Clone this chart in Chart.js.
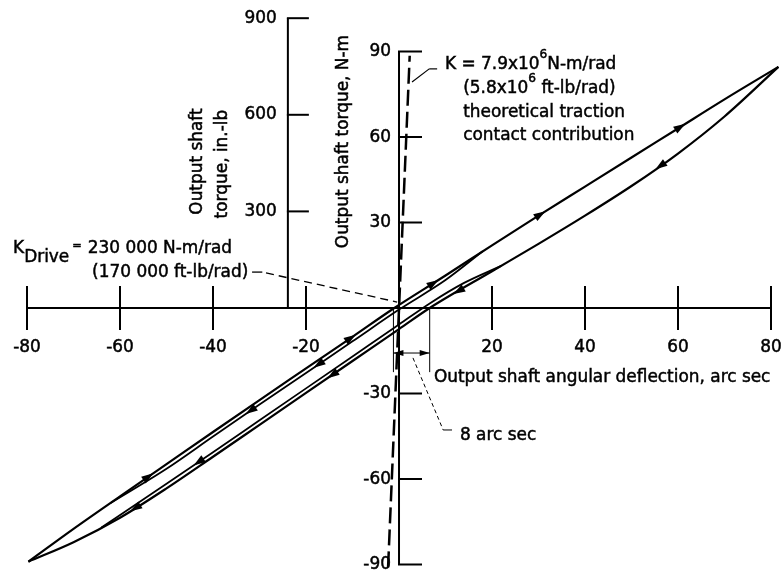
<!DOCTYPE html>
<html>
<head>
<meta charset="utf-8">
<script src="https://cdn.jsdelivr.net/npm/chart.js@4.4.1/dist/chart.umd.min.js"></script>
<style>
  html, body { margin: 0; padding: 0; background: #fff; }
  #wrap { width: 781px; height: 571px; }
</style>
</head>
<body>
<div id="wrap"><canvas id="chart"></canvas></div>
<script>
"use strict";

// deflection in arc sec, torque in N-m
const upperX = [-79.7, -70, -60, -50, -40, -30, -20, -10, -1, 10, 20, 30, 40, 50, 60, 70, 81.6];
const upperY = [-89, -77.5, -66.1, -54.8, -43.5, -32.3, -21.2, -10.1, 0, 11.4, 22.0, 32.4, 42.6, 52.8, 63.0, 73.2, 84.6];

const upper2X = [-62, -50, -40, -30, -20, -10, 0, 10, 18];
const upper2Y = [-68.4, -56.4, -45.1, -33.9, -22.8, -11.7, -0.56, 9.8, 19.9];

const lowerX = [-79.7, -70, -60, -50, -40, -30, -20, -10, 0, 6.6, 20, 30, 40, 50, 60, 70, 81.6];
const lowerY = [-89, -82.2, -73.6, -63.3, -52.2, -41.0, -29.8, -18.6, -7.4, 0, 12.9, 22.5, 32.4, 42.8, 54.2, 67.2, 84.6];

const lower2X = [-64, -50, -40, -30, -20, -10, 0, 6.6, 14, 22];
const lower2Y = [-77.0, -61.7, -50.6, -39.4, -28.2, -17.0, -5.8, 1.6, 8.8, 14.8];

// theoretical traction contact stiffness line
const kLineX = [-2.35, 2.3];
const kLineY = [-91, 88.5];

// arrows on the loop: which curve, where, which way
const arrowCurve = ["upper", "upper", "upper", "upper", "upper", "upper2", "upper2", "lower", "lower", "lower", "lower2", "lower"];
const arrowX = [60.5, 30.4, 7.4, -10.4, -53.9, -17.3, -31.9, 56.2, 12.8, -14.3, -43.1, -56.7];
const arrowDir = [1, 1, 1, 1, 1, -1, -1, -1, -1, -1, -1, -1];

// tick labels
const xTicks = [-80, -60, -40, -20, 20, 40, 60, 80];
const nmTicks = [90, 60, 30, -30, -60, -90];
const inlbTicks = [900, 600, 300];

const NM_TO_INLB = 8.8507;
const xMin = -85.81, xMax = 82.15;
const yMin = -92.28, yMax = 108.07;

const curves = {
  upper: [upperX, upperY],
  upper2: [upper2X, upper2Y],
  lower: [lowerX, lowerY],
  lower2: [lower2X, lower2Y]
};

const SQUEEZE = 0.94;
const FONT = '"DejaVu Sans", "Liberation Sans", sans-serif';

function pts(xs, ys) {
  return xs.map((x, i) => ({ x: x, y: ys[i] }));
}

function seg(ctx, x1, y1, x2, y2) {
  ctx.beginPath();
  ctx.moveTo(x1, y1);
  ctx.lineTo(x2, y2);
  ctx.stroke();
}

function txt(ctx, s, x, y, align, size, rot) {
  ctx.save();
  ctx.translate(x, y);
  if (rot) ctx.rotate(rot);
  ctx.scale(SQUEEZE, 1);
  ctx.font = size + "px " + FONT;
  ctx.textAlign = align;
  ctx.textBaseline = "middle";
  ctx.fillStyle = "#000";
  ctx.strokeStyle = "#000";
  ctx.lineWidth = 0.5;
  ctx.setLineDash([]);
  ctx.fillText(s, 0, 0);
  ctx.strokeText(s, 0, 0);
  ctx.restore();
}

function run(ctx, parts, x, y) {
  let cx = x;
  parts.forEach(p => {
    ctx.font = p.size + "px " + FONT;
    const w = ctx.measureText(p.t).width * SQUEEZE;
    txt(ctx, p.t, cx, y + (p.dy || 0), "left", p.size);
    cx += w + (p.gap || 0);
  });
}

function interp(xs, ys, x) {
  for (let i = 0; i < xs.length - 1; i++) {
    if (x >= xs[i] && x <= xs[i + 1]) {
      const t = (x - xs[i]) / (xs[i + 1] - xs[i]);
      return ys[i] + t * (ys[i + 1] - ys[i]);
    }
  }
  return ys[ys.length - 1];
}

function arrowHead(ctx, x, y, ang, len, half) {
  ctx.save();
  ctx.translate(x, y);
  ctx.rotate(ang);
  ctx.beginPath();
  ctx.moveTo(len / 2, 0);
  ctx.lineTo(-len / 2, -half);
  ctx.lineTo(-len / 2, half);
  ctx.closePath();
  ctx.fill();
  ctx.restore();
}

const sketchAxes = {
  id: "sketchAxes",
  beforeDatasetsDraw(chart) {
    const ctx = chart.ctx;
    const sx = chart.scales.x, sy = chart.scales.y, si = chart.scales.yIn;
    const X = v => sx.getPixelForValue(v);
    const Y = v => sy.getPixelForValue(v);
    ctx.save();
    ctx.strokeStyle = "#000";
    ctx.lineWidth = 2;

    // deflection axis through zero torque
    const y0 = Y(0);
    seg(ctx, X(xTicks[0]), y0, X(xTicks[xTicks.length - 1]), y0);
    xTicks.forEach(t => {
      seg(ctx, X(t), y0 - 22, X(t), y0 + 22);
      txt(ctx, String(t), X(t), y0 + 39, "center", 18);
    });

    // N-m axis
    const x0 = X(0);
    seg(ctx, x0, Y(nmTicks[0]), x0, Y(nmTicks[nmTicks.length - 1]));
    nmTicks.forEach(t => {
      seg(ctx, x0 - 1, Y(t), x0 + 23, Y(t));
      txt(ctx, String(t), x0 - 8, Y(t), "right", 18);
    });

    // in.-lb axis
    const xi = X(-23.9);
    seg(ctx, xi, si.getPixelForValue(0), xi, si.getPixelForValue(inlbTicks[0]));
    inlbTicks.forEach(t => {
      const py = si.getPixelForValue(t);
      seg(ctx, xi - 1, py, xi + 21, py);
      txt(ctx, String(t), xi - 11, py, "right", 18);
    });

    // axis titles
    txt(ctx, "Output shaft torque, N-m", X(-12.0), Y(58.4), "center", 18, -Math.PI / 2);
    txt(ctx, "Output shaft", X(-43.4), Y(51.4), "center", 18, -Math.PI / 2);
    txt(ctx, "torque, in.-lb", X(-38.1), Y(50.5), "center", 18, -Math.PI / 2);
    txt(ctx, "Output shaft angular deflection, arc sec", X(7.5), Y(-24.2), "left", 18);
    ctx.restore();
  },
  afterDatasetsDraw(chart) {
    const ctx = chart.ctx;
    const sx = chart.scales.x, sy = chart.scales.y;
    const X = v => sx.getPixelForValue(v);
    const Y = v => sy.getPixelForValue(v);
    ctx.save();
    ctx.fillStyle = "#000";
    ctx.strokeStyle = "#000";

    // arrowheads along the loop
    arrowX.forEach((ax, i) => {
      const c = curves[arrowCurve[i]];
      const ay = interp(c[0], c[1], ax);
      const p1x = X(ax - 0.5), p1y = Y(interp(c[0], c[1], ax - 0.5));
      const p2x = X(ax + 0.5), p2y = Y(interp(c[0], c[1], ax + 0.5));
      let ang = Math.atan2(p2y - p1y, p2x - p1x);
      if (arrowDir[i] < 0) ang += Math.PI;
      arrowHead(ctx, X(ax), Y(ay), ang, 12, 4);
    });

    // 8 arc sec dimension
    ctx.lineWidth = 1;
    seg(ctx, X(-1.2), Y(0), X(-1.2), Y(-22.5));
    seg(ctx, X(6.6), Y(0), X(6.6), Y(-22.5));
    seg(ctx, X(-1.2), Y(-15.8), X(6.6), Y(-15.8));
    arrowHead(ctx, X(-1.2) + 5, Y(-15.8), Math.PI, 10, 3);
    arrowHead(ctx, X(6.6) - 5, Y(-15.8), 0, 10, 3);
    ctx.setLineDash([4, 3]);
    seg(ctx, X(3.0), Y(-17.5), X(9.5), Y(-42.8));
    ctx.setLineDash([]);
    seg(ctx, X(9.5), Y(-42.8), X(11.4), Y(-42.8));
    txt(ctx, "8 arc sec", X(13.1), Y(-44.6), "left", 18);

    // K drive label and leader
    ctx.lineWidth = 1.3;
    seg(ctx, X(-31.6), Y(12.6), X(-29.4), Y(12.6));
    ctx.setLineDash([8, 5]);
    seg(ctx, X(-28.6), Y(12.3), X(-0.4), Y(2.1));
    ctx.setLineDash([]);
    run(ctx, [
      { t: "K", size: 18 },
      { t: "Drive", size: 18, dy: 9, gap: 3 },
      { t: "=", size: 12, dy: -2, gap: 6 },
      { t: "230 000 N-m/rad", size: 18 }
    ], X(-83.0), Y(21.1));
    txt(ctx, "(170 000 ft-lb/rad)", X(-66.0), Y(12.6), "left", 18);

    // K traction contact label and leader
    ctx.lineWidth = 1.2;
    seg(ctx, X(8.2), Y(83.9), X(6.5), Y(83.9));
    seg(ctx, X(6.5), Y(83.9), X(2.8), Y(79.3));
    run(ctx, [
      { t: "K = 7.9x10", size: 18 },
      { t: "6", size: 13, dy: -9 },
      { t: "N-m/rad", size: 18 }
    ], X(9.9), Y(85.6));
    run(ctx, [
      { t: "(5.8x10", size: 18 },
      { t: "6", size: 13, dy: -9 },
      { t: " ft-lb/rad)", size: 18 }
    ], X(13.8), Y(77.2));
    txt(ctx, "theoretical traction", X(13.8), Y(68.8), "left", 18);
    txt(ctx, "contact contribution", X(13.8), Y(60.7), "left", 18);
    ctx.restore();
  }
};

function lineSet(xs, ys, width, dash) {
  return {
    data: pts(xs, ys),
    showLine: true,
    borderColor: "#000",
    borderWidth: width,
    borderDash: dash || [],
    pointRadius: 0,
    cubicInterpolationMode: "monotone",
    clip: false
  };
}

const chartCanvas = document.getElementById("chart");
const myChart = new Chart(chartCanvas, {
  type: "scatter",
  data: {
    datasets: [
      lineSet(upperX, upperY, 2.2),
      lineSet(upper2X, upper2Y, 1.8),
      lineSet(lowerX, lowerY, 2.2),
      lineSet(lower2X, lower2Y, 1.8),
      lineSet(kLineX, kLineY, 2.5, [16, 6])
    ]
  },
  options: {
    responsive: true,
    maintainAspectRatio: false,
    animation: false,
    layout: { padding: 0 },
    plugins: { legend: { display: false }, tooltip: { enabled: false } },
    scales: {
      x: { type: "linear", display: false, min: xMin, max: xMax },
      y: { type: "linear", display: false, min: yMin, max: yMax },
      yIn: { type: "linear", axis: "y", display: false, min: yMin * NM_TO_INLB, max: yMax * NM_TO_INLB }
    }
  },
  plugins: [sketchAxes]
});
</script>
</body>
</html>
